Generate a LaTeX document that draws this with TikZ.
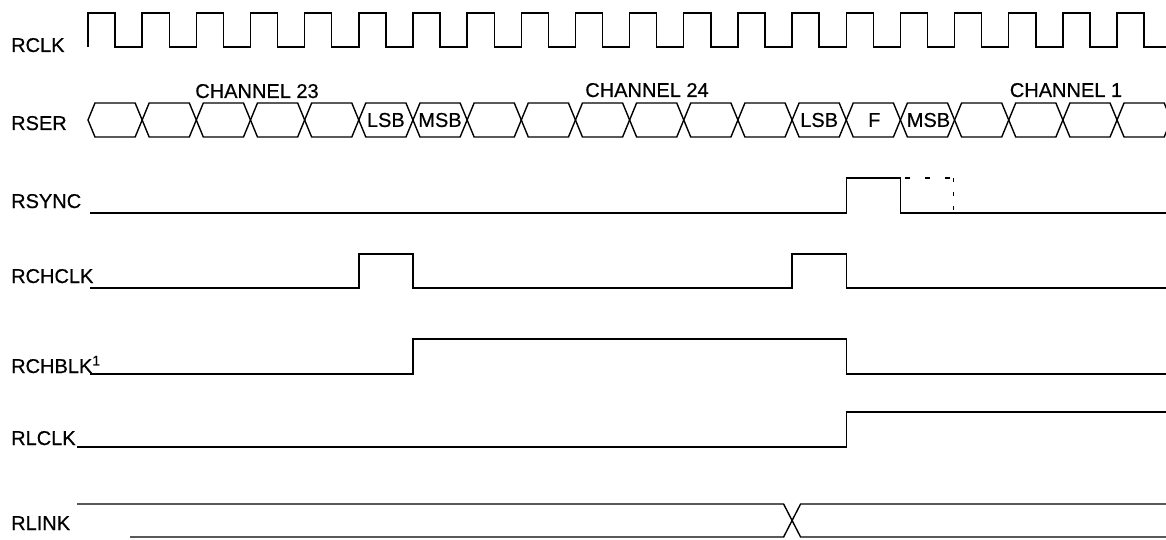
\documentclass[tikz,border=0pt]{standalone}
\usepackage{fontspec}
\setmainfont{Liberation Sans}
\newfontfamily\tdfam{Liberation Sans}[FakeBold=0.5]
\newcommand\tdfont{\tdfam\fontsize{20}{22}\selectfont}
\begin{document}
\begin{tikzpicture}[x=1pt,y=-1pt,line width=1.4pt,line join=miter,
  lbl/.style={anchor=base west,inner sep=0pt,font=\tdfont},
  chlbl/.style={anchor=base,inner sep=0pt,font=\tdfont},
  hexlbl/.style={anchor=center,inner sep=0pt,font=\tdfont},
  wave/.style={draw=black,line width=1.4pt},
  ghost/.style={draw=black,line width=1.1pt,dash pattern=on 5pt off 15pt}]
\useasboundingbox (0,0) rectangle (1166,540);
\clip (0,0) rectangle (1166,540);
\def\P{54.16}
\def\H{7}
% signal labels
\node[lbl] (lrclk) at (10.5,52) {RCLK};
\node[lbl] (lrser) at (10.5,130) {RSER};
\node[lbl] (lrsync) at (10.5,208) {RSYNC};
\node[lbl] (lrchclk) at (10.5,283) {RCHCLK};
\node[lbl] (lrchblk) at (10.5,373) {RCHBLK\textsuperscript{1}};
\node[lbl] (lrlclk) at (10.5,445) {RLCLK};
\node[lbl] (lrlink) at (10.5,530) {RLINK};
% channel labels
\node[chlbl] (ch23) at (257,98) {CHANNEL 23};
\node[chlbl] (ch24) at (647,97) {CHANNEL 24};
\node[chlbl] (ch1) at (1066,97) {CHANNEL 1};
% RCLK
\draw[wave] (88,47) \foreach \k in {0,...,19} { -- ({88+\k*\P},13) -- ({88+\k*\P+0.5*\P},13) -- ({88+\k*\P+0.5*\P},47) -- ({88+(\k+1)*\P},47) };
% RSER
\foreach \k in {0,...,19} {
  \pgfmathsetmacro\a{88+\k*\P}
  \pgfmathsetmacro\b{88+(\k+1)*\P}
  \draw[wave] (\a,120) -- ({\a+\H},103) -- ({\b-\H},103) -- (\b,120) -- ({\b-\H},137) -- ({\a+\H},137) -- cycle;
}
\node[hexlbl] (lsb1) at ({88+5.5*\P},120) {LSB};
\node[hexlbl] (msb1) at ({88+6.5*\P},120) {MSB};
\node[hexlbl] (lsb2) at ({88+13.5*\P},120) {LSB};
\node[hexlbl] (f) at ({88+14.5*\P+1},120) {F};
\node[hexlbl] (msb2) at ({88+15.5*\P+1},120) {MSB};
% RSYNC
\draw[wave] (90,213) -- ({88+14*\P},213) -- ({88+14*\P},178) -- ({88+15*\P},178) -- ({88+15*\P},213) -- (1166,213);
\draw[ghost] ({88+15*\P+5},178) -- ({88+16*\P-1},178);
\draw[ghost,dash pattern=on 4pt off 10pt] ({88+16*\P-1},178) -- ({88+16*\P-1},213);
% RCHCLK
\draw[wave] (90,288) -- ({88+5*\P},288) -- ({88+5*\P},254) -- ({88+6*\P},254) -- ({88+6*\P},288)
  -- ({88+13*\P},288) -- ({88+13*\P},254) -- ({88+14*\P},254) -- ({88+14*\P},288) -- (1166,288);
% RCHBLK
\draw[wave] (90,374) -- ({88+6*\P},374) -- ({88+6*\P},339) -- ({88+14*\P},339) -- ({88+14*\P},374) -- (1166,374);
% RLCLK
\draw[wave] (77,447) -- ({88+14*\P},447) -- ({88+14*\P},412) -- (1166,412);
% RLINK
\draw[wave] (77,504) -- ({88+13*\P-8.5},504) -- ({88+13*\P+8.5},537) -- (1166,537);
\draw[wave] (130,537) -- ({88+13*\P-8.5},537) -- ({88+13*\P+8.5},504) -- (1166,504);
\end{tikzpicture}
\end{document}
